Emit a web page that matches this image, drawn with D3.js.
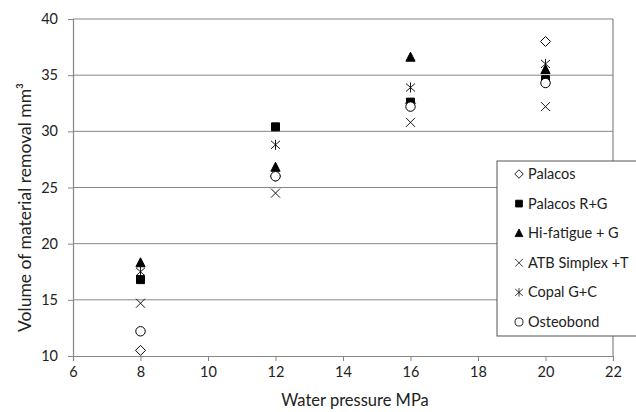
<!DOCTYPE html>
<html>
<head>
<meta charset="utf-8">
<script src="https://cdn.jsdelivr.net/npm/d3@7"></script>
<style>
  body { margin: 0; background: #fff; }
  text { font-family: Lato, "Open Sans", sans-serif; fill: #222; }
</style>
</head>
<body>
<div id="chart"></div>
<script>
// values
var pressure = [8, 12, 16, 20];
var palacos = [10.5, 26.0, 32.5, 38.0];
var palacosRG = [16.8, 30.4, 32.6, 34.6];
var hiFatigue = [18.3, 26.8, 36.6, 35.5];
var atbSimplex = [14.7, 24.5, 30.8, 32.2];
var copal = [17.5, 28.8, 33.9, 36.0];
var osteobond = [12.2, 26.0, 32.2, 34.3];

var seriesNames = ["Palacos", "Palacos R+G", "Hi-fatigue + G", "ATB Simplex +T", "Copal G+C", "Osteobond"];
var seriesValues = [palacos, palacosRG, hiFatigue, atbSimplex, copal, osteobond];
var seriesMarkers = ["diamond", "square", "triangle", "times", "star", "circle"];

var xTicks = [6, 8, 10, 12, 14, 16, 18, 20, 22];
var yTicks = [10, 15, 20, 25, 30, 35, 40];

const W = 636, H = 412;
var margin = { top: 19, right: 23, bottom: 56, left: 73 },
    width = W - margin.left - margin.right,
    height = H - margin.top - margin.bottom;

var x = d3.scaleLinear().domain([6, 22]).range([0, width]);
var y = d3.scaleLinear().domain([10, 40]).range([height, 0]);

var svg = d3.select("#chart").append("svg")
    .attr("width", W)
    .attr("height", H);
var g = svg.append("g")
    .attr("transform", "translate(" + margin.left + "," + margin.top + ")");

// horizontal gridlines
g.append("g")
    .selectAll("line")
    .data(yTicks.filter(d => d > 10))
    .enter().append("line")
    .attr("x1", 0).attr("x2", width)
    .attr("y1", d => y(d)).attr("y2", d => y(d))
    .attr("stroke", "#868686").attr("stroke-width", 1);

// right border
g.append("line")
    .attr("x1", width).attr("x2", width)
    .attr("y1", 0).attr("y2", height)
    .attr("stroke", "#868686").attr("stroke-width", 1.2);

// x axis
var xAxis = g.append("g")
    .attr("transform", "translate(0," + height + ")")
    .call(d3.axisBottom(x).tickValues(xTicks).tickSize(5).tickPadding(6).tickFormat(d3.format("d")));
// y axis
var yAxis = g.append("g")
    .call(d3.axisLeft(y).tickValues(yTicks).tickSize(5).tickPadding(10).tickFormat(d3.format("d")));

[xAxis, yAxis].forEach(a => {
    a.select(".domain").attr("stroke", "#868686").attr("stroke-width", 1.2);
    a.selectAll(".tick line").attr("stroke", "#868686");
    a.selectAll(".tick text").style("font-size", "14.5px").attr("fill", "#222");
});

// marker shapes
const markerPath = (type) => {
    if (type === "diamond") return "M0,-5L5,0L0,5L-5,0Z";
    if (type === "square") return "M-4,-4H4V4H-4Z";
    if (type === "triangle") return "M0,-5L4.6,4L-4.6,4Z";
    if (type === "times") return "M-4.5,-4.5L4.5,4.5M-4.5,4.5L4.5,-4.5";
    if (type === "star") return "M-4.5,-4L4.5,4M-4.5,4L4.5,-4M0,-5V5";
    return d3.symbol().type(d3.symbolCircle).size(70)();
};
const markerStyle = (sel, type) => {
    var filled = (type === "square" || type === "triangle");
    var lines = (type === "times" || type === "star");
    sel.attr("d", markerPath(type))
        .attr("fill", filled ? "#000" : (lines ? "none" : "#fff"))
        .attr("stroke", "#000")
        .attr("stroke-width", lines ? 0.9 : 1);
};

seriesValues.forEach((vals, i) => {
    g.append("g")
        .selectAll("path")
        .data(vals.map((v, j) => ({ x: pressure[j], y: v })))
        .enter().append("path")
        .attr("transform", d => "translate(" + x(d.x) + "," + y(d.y) + ")")
        .call(markerStyle, seriesMarkers[i]);
});

// axis titles
svg.append("text")
    .attr("x", margin.left + width / 2 + 12)
    .attr("y", 406)
    .attr("text-anchor", "middle")
    .style("font-size", "16.5px")
    .text("Water pressure MPa");

svg.append("text")
    .attr("transform", "translate(31," + (margin.top + height / 2 + 20) + ") rotate(-90)")
    .attr("text-anchor", "middle")
    .style("font-size", "17.5px")
    .text("Volume of material removal mm³");

// legend
var legend = svg.append("g").attr("transform", "translate(497,161)");
legend.append("rect")
    .attr("x", 0).attr("y", 0)
    .attr("width", 150).attr("height", 175)
    .attr("fill", "#fff")
    .attr("stroke", "#555").attr("stroke-width", 1);

var item = legend.selectAll("g.item")
    .data(seriesNames)
    .enter().append("g")
    .attr("class", "item")
    .attr("transform", (d, i) => "translate(0," + (13 + i * 29.6) + ")");
item.append("path")
    .attr("transform", "translate(22,0) scale(0.85)")
    .each(function (d, i) { d3.select(this).call(markerStyle, seriesMarkers[i]); });
item.append("text")
    .attr("x", 31)
    .attr("dy", "0.35em")
    .style("font-size", "14.5px")
    .text(d => d);
</script>
</body>
</html>
